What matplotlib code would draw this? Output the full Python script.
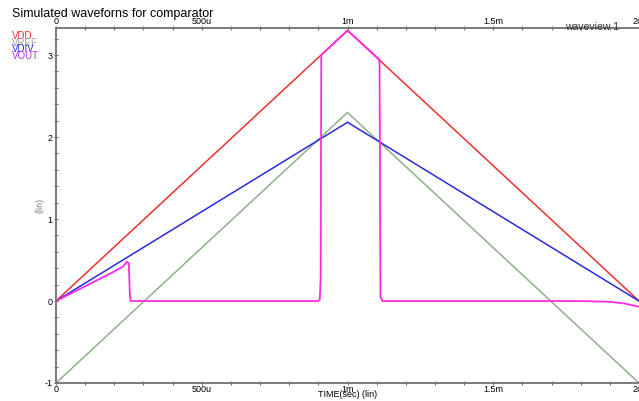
import numpy as np
import matplotlib
matplotlib.use("Agg")
import matplotlib.pyplot as plt
from matplotlib.ticker import MultipleLocator

plt.rcParams['font.family'] = ['Liberation Sans', 'DejaVu Sans']

# time in ms
t_ramp = [0.0, 1.0, 2.0]
vdd = [0.0, 3.3, 0.0]
vref = [-1.0, 2.3, -1.0]
vdiv = [0.0, 2.18, 0.0]

t_out = [0.0, 0.05, 0.10, 0.15, 0.20, 0.23, 0.243, 0.25, 0.253, 0.256, 0.26,
         0.90, 0.905, 0.908, 0.91, 1.0, 1.108, 1.110, 1.113, 1.12,
         1.80, 1.90, 1.95, 2.0]
vout = [0.0, 0.09, 0.18, 0.27, 0.36, 0.42, 0.48, 0.46, 0.10, 0.0, 0.0,
        0.0, 0.02, 0.3, 3.0, 3.3, 2.95, 2.9, 0.05, 0.0,
        0.0, -0.01, -0.03, -0.07]

xticks = [0, 0.5, 1.0, 1.5, 2.0]
xlabels = ["0", "500u", "1m", "1.5m", "2m"]
yticks = [-1, 0, 1, 2, 3]
ylabels = ["-1", "0", "1", "2", "3"]

series = [("VDD", "#e8322e"), ("VREF", "#a0a0a0"), ("VDIV", "#3030e0"), ("VOUT", "#c030e8")]

fig = plt.figure(figsize=(6.39, 4.01), dpi=100)
ax = fig.add_axes([56 / 639, 18 / 401, 583 / 639, 355 / 401])

ax.plot(t_ramp, vdd, color="#e8322e", lw=1.1)
ax.plot(t_ramp, vref, color="#8fb08a", lw=1.1)
ax.plot(t_ramp, vdiv, color="#2a2ae0", lw=1.1)
ax.plot(t_out, vout, color="#ff2ae6", lw=1.3)

ax.set_xlim(0, 2.0)
ax.set_ylim(-1, 3.33)

for s in ["left", "bottom", "top"]:
    ax.spines[s].set_color("#707070")
    ax.spines[s].set_linewidth(1.3)
ax.spines["right"].set_visible(False)

ax.set_xticks(xticks)
ax.set_xticklabels(xlabels)
ax.set_yticks(yticks)
ax.set_yticklabels(ylabels)
ax.xaxis.set_minor_locator(MultipleLocator(0.1))
ax.yaxis.set_minor_locator(MultipleLocator(0.2))
ax.tick_params(axis="x", which="both", top=True, labeltop=True, direction="inout",
               length=3, width=0.8, color="#707070", labelsize=6.5, pad=0)
ax.tick_params(axis="y", which="both", direction="inout", length=3, width=0.8,
               color="#707070", labelsize=6.5, pad=1)

ax.set_xlabel("TIME(sec) (lin)", fontsize=6.5, labelpad=-3)
ax.text(-0.027, 0.50, "(lin)", transform=ax.transAxes, rotation=90,
        fontsize=6.5, color="#808080", ha="center", va="center")

fig.text(12 / 639, 1 - 14 / 401, "Simulated waveforns for comparator", fontsize=9,
         ha="left", va="center")
fig.text(565 / 639, 1 - 27 / 401, "waveview 1", fontsize=7.5, color="#303030",
         ha="left", va="center")

for i, (name, col) in enumerate(series):
    fig.text(12 / 639, 1 - (36 + i * 6.7) / 401, name, fontsize=7, color=col,
             ha="left", va="center")

fig.savefig("out.png", dpi=100)
